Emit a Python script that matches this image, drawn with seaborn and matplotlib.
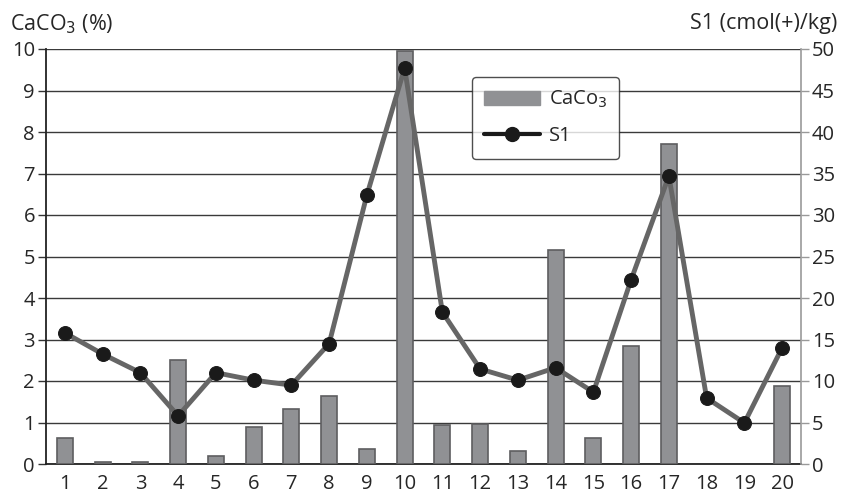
import matplotlib
matplotlib.use("Agg")
import matplotlib.pyplot as plt
import seaborn as sns
import numpy as np
import pandas as pd
from matplotlib.patches import Patch
from matplotlib.lines import Line2D

samples = [str(i) for i in range(1, 21)]
caco3 = [0.63, 0.05, 0.05, 2.5, 0.2, 0.88, 1.33, 1.65, 0.35, 9.95,
         0.93, 0.97, 0.32, 5.15, 0.62, 2.85, 7.72, 0.0, 0.0, 1.87]
s1 = [15.8, 13.25, 11.0, 5.8, 11.0, 10.1, 9.5, 14.5, 32.4, 47.7,
      18.3, 11.45, 10.1, 11.6, 8.65, 22.2, 34.7, 7.95, 4.95, 14.0]

sns.set_style("white")
plt.rcParams['font.family'] = ['Open Sans', 'DejaVu Sans']

df = pd.DataFrame({"sample": samples, "caco3": caco3, "s1": s1})

fig = plt.figure(figsize=(8.43, 4.99), dpi=100)
ax = fig.add_axes([46/843, 1-464/499, (801-46)/843, (464-49)/499])

sns.barplot(data=df, x="sample", y="caco3", ax=ax, color="#909194",
            edgecolor="#5e5e60", linewidth=1.2, width=0.42, saturation=1, zorder=3)
for p in ax.patches:
    if p.get_height() == 0:
        p.set_visible(False)
ax.set_ylim(0, 10)
ax.set_xlim(-0.5, 19.5)
ax.set_yticks(range(0, 11))
ax.yaxis.grid(True, color="#3a3a3a", linewidth=1.0, zorder=0)
ax.set_axisbelow(True)
ax.set_xlabel("")
ax.set_ylabel("")
ax.tick_params(axis='y', which='both', direction='out', length=6, width=1,
               color="#333333", labelsize=14.5, pad=2, left=True)
ax.tick_params(axis='x', length=0, labelsize=14.5, pad=7)
ax.spines["top"].set_visible(False)
ax.spines["left"].set_color("#222222")
ax.spines["left"].set_linewidth(1.3)
ax.spines["bottom"].set_color("#222222")
ax.spines["bottom"].set_linewidth(1.3)
ax.spines["right"].set_visible(False)

ax2 = ax.twinx()
x_pos = np.arange(len(samples))
sns.lineplot(x=x_pos, y=s1, ax=ax2, color="#666666", linewidth=3.5,
             marker="o", markersize=10, markerfacecolor="#1a1a1a",
             markeredgecolor="#1a1a1a", zorder=4)
ax2.set_ylim(0, 50)
ax2.set_xlim(-0.5, 19.5)
ax2.set_yticks(range(0, 51, 5))
ax2.tick_params(axis='y', direction='out', length=6, width=1, color="#999999",
                labelsize=14.5, pad=2, right=True)
for side in ["top", "left", "bottom"]:
    ax2.spines[side].set_visible(False)
ax2.spines["right"].set_color("#999999")
ax2.spines["right"].set_linewidth(1.2)

fig.text(10/843, 1-24/499, "CaCO$_3$ (%)", fontsize=15.5, ha="left", va="center")
fig.text(837/843, 1-24/499, "S1 (cmol(+)/kg)", fontsize=15.5, ha="right", va="center")

handles = [Patch(facecolor="#909194", edgecolor="#909194"),
           Line2D([0], [0], color="#1a1a1a", linewidth=3, marker="o",
                  markersize=10, markerfacecolor="#1a1a1a")]
leg = ax2.legend(handles, ["CaCo$_3$", "S1"], loc="upper left",
                 bbox_to_anchor=((472-46)/755, 1-(77-49)/415), fontsize=14.5,
                 frameon=True, fancybox=True, edgecolor="#222222",
                 borderpad=0.6, labelspacing=0.8, handlelength=2.8, handletextpad=0.4,
                 borderaxespad=0)
leg.get_frame().set_linewidth(1.0)
leg.set_zorder(10)

fig.savefig("out.png", dpi=100)
